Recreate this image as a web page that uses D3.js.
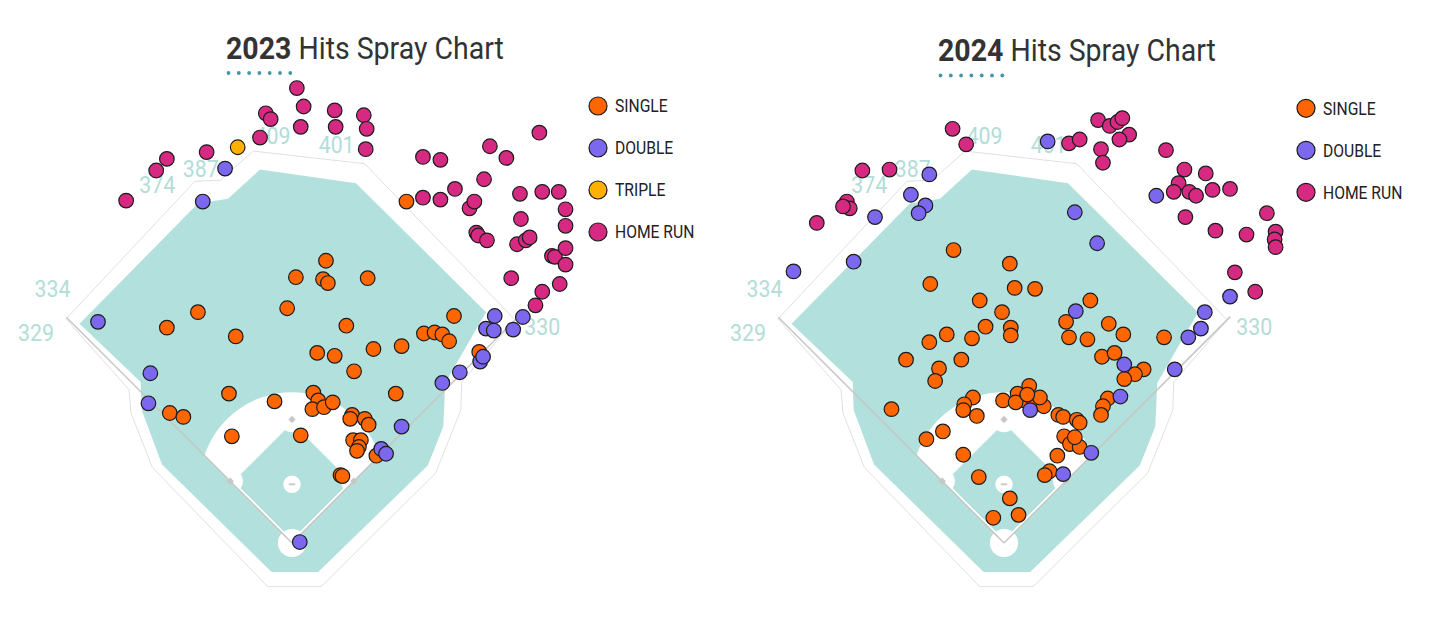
<!DOCTYPE html>
<html>
<head>
<meta charset="utf-8">
<script src="https://cdn.jsdelivr.net/npm/d3@7/dist/d3.min.js"></script>
<style>
  html, body { margin: 0; padding: 0; background: #fff; }
  svg { display: block; font-family: Roboto, "Noto Sans", sans-serif; }
</style>
</head>
<body>
<svg id="chart" width="1440" height="617"></svg>
<script>
// Hit locations in feet from home plate: [x (+ toward first base side), y (toward center field)]
const single2023 = [[4,274],[35,291],[32,272],[37,268],[78,273],[-5,242],[-97,238],[-129,222],[-58,213],[26,196],
  [44,193],[56,224],[84,200],[113,203],[64,177],[118,352],[167,234],[136,216],[147,217],[155,215],[162,208],[193,197],
  [107,154],[-65,154],[-18,146],[-126,134],[-112,130],[-62,110],[9,111],[22,155],[27,147],[21,138],[33,140],[42,145],
  [62,132],[60,128],[75,128],[79,122],[63,106],[71,106],[69,99],[67,95],[87,90],[50,70],[52,69]];
const double2023 = [[-69,386],[-92,352],[-200,228],[-146,175],[-148,144],[8,1],[209,234],[200,221],[208,219],[228,220],
  [238,233],[194,187],[197,192],[173,176],[155,165],[113,120],[92,97],[97,92]];
const triple2023 = [[-56,408]];
const homeRun2023 = [[5,469],[12,450],[-27,443],[-22,437],[9,429],[-33,418],[-88,403],[-129,396],[-140,384],[-171,353],
  [44,446],[45,429],[74,441],[77,427],[76,406],[135,398],[153,395],[204,409],[221,397],[255,423],[198,375],[135,356],
  [153,354],[168,365],[183,345],[188,352],[235,360],[258,362],[275,362],[282,344],[236,334],[282,327],[190,320],[192,317],
  [201,312],[232,308],[241,312],[245,315],[268,296],[271,295],[282,304],[282,287],[226,273],[276,267],[258,259],[251,245]];

const single2024 = [[-52,302],[-76,267],[6,288],[-25,250],[11,263],[32,262],[-2,238],[-19,223],[7,222],[7,214],
  [-59,215],[-33,211],[-77,207],[-101,189],[-44,189],[-67,180],[-71,167],[-116,138],[89,250],[64,228],[108,226],[123,215],
  [67,212],[86,210],[165,212],[101,192],[114,196],[144,179],[135,174],[124,169],[107,149],[102,141],[100,132],[-32,150],
  [-41,143],[-42,137],[-28,131],[-1,147],[26,162],[14,154],[21,147],[31,145],[41,141],[37,150],[12,145],[24,153],
  [56,132],[61,130],[75,127],[78,124],[62,110],[68,102],[78,99],[73,109],[55,90],[47,74],[42,70],[-63,115],[-80,107],
  [-42,91],[-26,68],[6,46],[-11,26],[15,29]];
const double2024 = [[-77,380],[-96,359],[-81,348],[-88,340],[-133,336],[-155,290],[-217,280],[45,414],[73,341],[96,309],
  [157,358],[233,254],[207,238],[203,221],[190,212],[176,179],[74,239],[124,184],[120,151],[27,137],[90,93],[61,71]];
const triple2024 = [];
const homeRun2024 = [[-53,427],[-39,411],[-146,384],[-118,385],[-162,352],[-159,345],[-166,347],[-193,330],[67,412],
  [78,416],[97,436],[109,430],[117,434],[122,438],[129,421],[119,416],[100,406],[102,392],[167,405],[186,385],[208,381],
  [180,371],[175,362],[191,362],[198,358],[215,364],[233,365],[187,336],[218,322],[250,318],[271,340],[280,321],[279,313],
  [280,305],[238,279],[259,259]];

const years = [2023, 2024];
const hitTypes = ["SINGLE", "DOUBLE", "TRIPLE", "HOME RUN"];
const fenceDistances = [329, 334, 374, 387, 409, 401, 330];

const seasons = [
  { year: years[0], hits: [single2023, double2023, triple2023, homeRun2023] },
  { year: years[1], hits: [single2024, double2024, triple2024, homeRun2024] }
];

// Ballpark shape, in feet from home plate
const standsOutline = [[-233,231],[-168,158],[-166,134],[-144,78],[-25,-45],[30,-45],[148,72],[174,137],[175,166],
  [230,230],[75,391],[-40,404],[-74,374],[-100,373]];
const grassOutline = [[-219,226],[-97,350],[-66,355],[-33,385],[66,371],[200,238],[158,165],[156,120],[140,80],
  [27,-30],[-21,-30],[-134,81],[-155,137],[-156,166]];
const fenceLabelSpots = [[-264,208],[-247,254],[-139,361],[-94,377],[-20,411],[46,402],[258,214]];
const basePath = 90, moundDist = 60.5, infieldArc = 95;

// Page layout
const panels = [
  { homeX: 292, homeY: 543, titleX: 226, titleY: 58.5, legendX: 598, legendY: 106 },
  { homeX: 1004, homeY: 543, titleX: 938, titleY: 61, legendX: 1306, legendY: 108.3 }
];
const pxPerFoot = 0.97;
const squeeze = 0.87; // condensed look for the text
const colors = ["#ff6600", "#7b68ee", "#ffb000", "#d62a82"];
const grassColor = "#b2e0dc";

const svg = d3.select("#chart");

function drawSeason(season, p, idx) {
  const g = svg.append("g");

  const x = d3.scaleLinear().domain([-300, 300])
    .range([p.homeX - 300 * pxPerFoot, p.homeX + 300 * pxPerFoot]);
  const y = d3.scaleLinear().domain([0, 500])
    .range([p.homeY, p.homeY - 500 * pxPerFoot]);
  const line = d3.line().x(d => x(d[0])).y(d => y(d[1])).curve(d3.curveLinearClosed);
  const r = ft => ft * pxPerFoot;

  // stands / warning track
  g.append("path").attr("d", line(standsOutline))
    .attr("fill", "#fff").attr("stroke", "#e0e0e0").attr("stroke-width", 1);

  // outfield grass
  g.append("path").attr("d", line(grassOutline)).attr("fill", grassColor);

  // infield dirt: wedge between the foul lines inside the 95 ft arc
  const s = (moundDist + Math.sqrt(2 * infieldArc * infieldArc - moundDist * moundDist)) / 2;
  const cx = x(0), cy = y(moundDist);
  const a0 = Math.atan2(y(s) - cy, x(-s) - cx);
  const a1 = Math.atan2(y(s) - cy, x(s) - cx);
  const dirt = d3.path();
  dirt.moveTo(x(0), y(0));
  dirt.lineTo(x(-s), y(s));
  dirt.arc(cx, cy, r(infieldArc), a0, a1, false);
  dirt.closePath();
  g.append("path").attr("d", dirt.toString()).attr("fill", "#fff");

  // infield grass square
  const half = basePath / Math.SQRT2, inset = 3.5;
  const infieldGrass = [[0, inset], [half - inset, half], [0, 2 * half - inset], [-half + inset, half]];
  g.append("path").attr("d", line(infieldGrass)).attr("fill", grassColor);

  // base cut-outs, kept inside fair territory
  const clipId = "fair" + idx;
  g.append("clipPath").attr("id", clipId)
    .append("path").attr("d", line([[0, 0], [-300, 300], [300, 300]]));
  const bases = [[half, half], [0, 2 * half], [-half, half]];
  g.append("g").attr("clip-path", `url(#${clipId})`)
    .selectAll("circle").data(bases).join("circle")
    .attr("cx", d => x(d[0])).attr("cy", d => y(d[1])).attr("r", r(13)).attr("fill", "#fff");

  // home plate circle and mound
  g.append("circle").attr("cx", x(0)).attr("cy", y(0)).attr("r", r(14.5)).attr("fill", "#fff");
  g.append("circle").attr("cx", cx).attr("cy", cy).attr("r", r(9)).attr("fill", "#fff");
  g.append("rect").attr("x", x(-3.3)).attr("y", cy - 1).attr("width", x(3.3) - x(-3.3)).attr("height", 2)
    .attr("fill", "#cccccc");

  // foul lines
  const poleL = [-fenceDistances[0] / Math.SQRT2, fenceDistances[0] / Math.SQRT2];
  const poleR = [fenceDistances[6] / Math.SQRT2, fenceDistances[6] / Math.SQRT2];
  [poleL, poleR].forEach(pole => {
    g.append("line")
      .attr("x1", x(0)).attr("y1", y(0)).attr("x2", x(pole[0])).attr("y2", y(pole[1]))
      .attr("stroke", "#c6c6c6").attr("stroke-width", 1.5);
  });

  // bases
  g.selectAll("rect.base").data(bases).join("rect")
    .attr("class", "base")
    .attr("x", -2.6).attr("y", -2.6).attr("width", 5.2).attr("height", 5.2)
    .attr("transform", d => `translate(${x(d[0])},${y(d[1])}) rotate(45)`)
    .attr("fill", "#c8c8c8");

  // fence distances
  g.selectAll("text.dist").data(fenceDistances).join("text")
    .attr("class", "dist")
    .attr("transform", (d, i) => `translate(${x(fenceLabelSpots[i][0])},${y(fenceLabelSpots[i][1])}) scale(${squeeze},1)`)
    .attr("text-anchor", "middle")
    .attr("font-size", 24.5)
    .attr("fill", "#b3ddd7")
    .text(d => d);

  // hits
  season.hits.forEach((list, t) => {
    g.append("g").selectAll("circle").data(list).join("circle")
      .attr("cx", d => x(d[0])).attr("cy", d => y(d[1]))
      .attr("r", 7.3)
      .attr("fill", colors[t])
      .attr("stroke", "#1c1c1c").attr("stroke-width", 1.2);
  });

  // title
  const title = g.append("text")
    .attr("transform", `translate(${p.titleX},${p.titleY}) scale(0.89,1)`)
    .attr("font-size", 32).attr("fill", "#333");
  title.append("tspan").attr("font-weight", 700).text(season.year);
  title.append("tspan").text(" Hits Spray Chart");

  g.selectAll("circle.dot").data(d3.range(7)).join("circle")
    .attr("class", "dot")
    .attr("cx", d => p.titleX + 2.5 + d * 10.3).attr("cy", p.titleY + 14.5)
    .attr("r", 1.9).attr("fill", "#4396a8");

  // legend
  const used = hitTypes.map((name, t) => ({ name, t })).filter(d => season.hits[d.t].length > 0);
  const legend = g.append("g").selectAll("g").data(used).join("g")
    .attr("transform", (d, i) => `translate(${p.legendX},${p.legendY + i * 42})`);
  legend.append("circle").attr("r", 9)
    .attr("fill", d => colors[d.t]).attr("stroke", "#1c1c1c").attr("stroke-width", 1.2);
  legend.append("text")
    .attr("transform", `translate(17,6.4) scale(${squeeze},1)`)
    .attr("font-size", 18).attr("fill", "#222")
    .text(d => d.name);
}

seasons.forEach((s, i) => drawSeason(s, panels[i], i));
</script>
</body>
</html>
